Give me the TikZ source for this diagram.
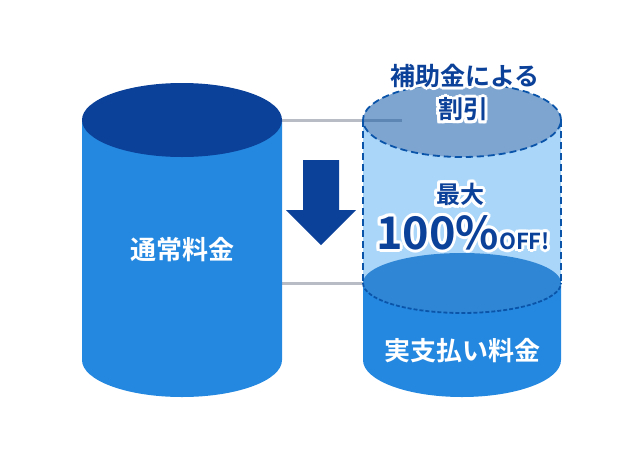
\documentclass[tikz,border=0pt]{standalone}
\usepackage{fontspec}
\usepackage{contour}
\newfontfamily\jpb{Noto Sans CJK JP Bold}
\contourlength{3pt}
\contournumber{16}
\definecolor{navy}{HTML}{0C4199}
\definecolor{bodyblue}{HTML}{2488E0}
\definecolor{paleblue}{HTML}{AAD6FA}
\definecolor{midblue}{HTML}{2F86D4}
\definecolor{dashblue}{HTML}{0A55AA}
\definecolor{capblue}{HTML}{145AAA}
\definecolor{linegray}{HTML}{B8BCC4}
\tikzset{
  guide/.style={draw=linegray, line width=3pt},
  whitelabel/.style={text=white, font=\jpb\fontsize{26}{30}\selectfont},
  halolabel/.style={text=navy, font=\jpb\fontsize{25}{29}\selectfont, inner sep=0pt},
  dashrim/.style={draw=dashblue, line width=1.8pt, dash pattern=on 7pt off 4pt},
}
\begin{document}
\begin{tikzpicture}[x=1pt,y=1pt]
  \useasboundingbox (0,0) rectangle (644,-464);

  \coordinate (ltop) at (282,-120);
  \coordinate (lmid) at (282,-283);
  \coordinate (rtop) at (402,-120);
  \coordinate (rmid) at (363,-283);

  \draw[guide] (ltop) -- (rtop);
  \draw[guide] (lmid) -- (rmid);

  % left cylinder
  \fill[bodyblue] (82,-120) -- (82,-360) arc[start angle=180,end angle=360,x radius=100,y radius=37] -- (282,-120) -- cycle;
  \fill[navy] (182,-120) ellipse [x radius=100, y radius=37];

  % arrow
  \fill[navy] (303,-160) -- (303,-210) -- (286,-210) -- (321,-245) -- (356,-210) -- (339,-210) -- (339,-160) -- cycle;

  % right cylinder
  \fill[bodyblue] (363,-283) -- (363,-360) arc[start angle=180,end angle=360,x radius=99,y radius=37] -- (561,-283) -- cycle;
  \fill[paleblue] (363,-120) arc[start angle=180,end angle=360,x radius=99,y radius=37] -- (561,-283) -- (363,-283) -- cycle;
  \fill[midblue] (462,-283) ellipse [x radius=99, y radius=30];
  \draw[dashrim, dash pattern=on 4pt off 2pt] (363,-283) arc[start angle=180,end angle=360,x radius=99,y radius=30];
  \fill[capblue, fill opacity=0.55] (462,-120) ellipse [x radius=99, y radius=37];
  \draw[dashrim] (462,-120) ellipse [x radius=99, y radius=37];
  \draw[dashrim] (363,-120) -- (363,-283);
  \draw[dashrim] (561,-120) -- (561,-283);

  \node[whitelabel] (regular) at (182,-250) {通常料金};
  \node[whitelabel] (paid) at (462,-351) {実支払い料金};

  \node[halolabel] (subsidy) at (465,-77) {\contour{white}{補助金による}};
  \node[halolabel] (discount) at (463,-111) {\contour{white}{割引}};
  \node[halolabel, font=\jpb\fontsize{24}{28}\selectfont] (most) at (460,-196) {\contour{white}{最大}};
  \node[halolabel] (off) at (463,-234) {\contour{white}{{\fontsize{45}{45}\selectfont 100\%}{\fontsize{22}{22}\selectfont OFF!}}};
\end{tikzpicture}
\end{document}
